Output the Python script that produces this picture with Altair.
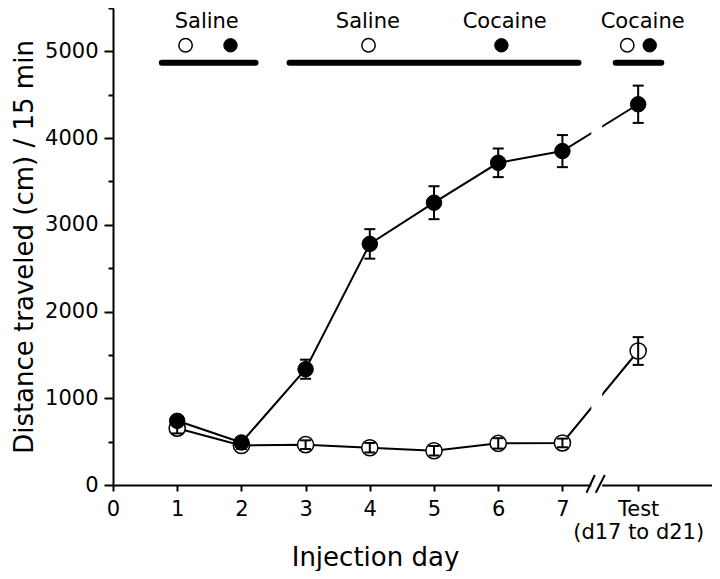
import altair as alt
import pandas as pd

# ---- data ----
DAYS = [1, 2, 3, 4, 5, 6, 7, 8.18]          # 8.18 = "Test" position after the axis break
COC_MEAN = [740, 490, 1335, 2780, 3255, 3715, 3850, 4390]
COC_ERR = [50, 40, 110, 170, 190, 165, 185, 215]
SAL_MEAN = [655, 455, 465, 430, 395, 480, 485, 1545]
SAL_ERR = [60, 40, 50, 55, 55, 60, 50, 160]

X_TICKS = [0, 1, 2, 3, 4, 5, 6, 7, 8.18]
Y_TICKS = [0, 500, 1000, 1500, 2000, 2500, 3000, 3500, 4000, 4500, 5000, 5500]

# treatment annotation at the top
BAR_START = [0.76, 2.75, 7.83]
BAR_END = [2.22, 7.25, 8.54]
BAR_Y = 4870
LABEL_TEXT = ["Saline", "Saline", "Cocaine", "Cocaine"]
LABEL_X = [1.46, 3.97, 6.10, 8.25]
LABEL_Y = 5270
OPEN_X = [1.13, 3.98, 8.01]
FILLED_X = [1.83, 6.05, 8.36]
SYMBOL_Y = 5070

# axis break
BREAK_LO, BREAK_HI = 7.45, 7.62
SLASH_X1 = [7.375, 7.52]
SLASH_X2 = [7.505, 7.66]

FONT = "DejaVu Sans"

# ---- tables ----
coc = pd.DataFrame({"x": DAYS, "mean": COC_MEAN, "err": COC_ERR, "series": "Cocaine"})
sal = pd.DataFrame({"x": DAYS, "mean": SAL_MEAN, "err": SAL_ERR, "series": "Saline"})
for d in (coc, sal):
    d["lo"] = d["mean"] - d["err"]
    d["hi"] = d["mean"] + d["err"]
both = pd.concat([coc, sal], ignore_index=True)

bars = pd.DataFrame({"x": BAR_START, "x2": BAR_END, "y": [BAR_Y] * len(BAR_START)})
labels = pd.DataFrame({"x": LABEL_X, "text": LABEL_TEXT, "y": [LABEL_Y] * len(LABEL_X)})
opens = pd.DataFrame({"x": OPEN_X, "y": [SYMBOL_Y] * len(OPEN_X)})
filleds = pd.DataFrame({"x": FILLED_X, "y": [SYMBOL_Y] * len(FILLED_X)})
brk = pd.DataFrame({"x": [BREAK_LO], "x2": [BREAK_HI]})
slashes = pd.DataFrame({"x": SLASH_X1, "x2": SLASH_X2})

# ---- scales and axes ----
xs = alt.Scale(domain=[0, 9.33], nice=False, zero=False)
ys = alt.Scale(domain=[0, 5500], nice=False)

x_axis = alt.Axis(
    values=X_TICKS,
    labelExpr="datum.value > 7.5 ? ['Test', '(d17 to d21)'] : format(datum.value, 'd')",
    title="Injection day",
    tickSize=6,
    labelPadding=7,
    labelLineHeight=23,
    labelOverlap=False,
    labelFlush=False,
    titleX=262,
    titleY=80,
    titleAlign="center",
    titleBaseline="alphabetic",
    titleFontSize=26,
)
y_axis = alt.Axis(
    values=Y_TICKS,
    labelExpr="datum.value % 1000 == 0 && datum.value <= 5000 ? format(datum.value, 'd') : ''",
    title="Distance traveled (cm) / 15 min",
    tickSize={"condition": {"test": "datum.value % 1000 == 0", "value": 9}, "value": 5},
    labelPadding=6,
    labelOverlap=False,
    labelFlush=False,
    titlePadding=7,
    titleFontSize=26,
)


def X(field):
    return alt.X(field, type="quantitative", scale=xs, axis=x_axis)


def Y(field):
    return alt.Y(field, type="quantitative", scale=ys, axis=y_axis)


lines = alt.Chart(both).mark_line(color="black", strokeWidth=2).encode(
    x=X("x"), y=Y("mean"), detail="series:N", order="x:Q"
)

mask = alt.Chart(brk).mark_rect(color="white").encode(
    x=X("x"), x2="x2:Q", y=alt.value(0), y2=alt.value(481)
)

slash_marks = alt.Chart(slashes).mark_rule(color="black", strokeWidth=2).encode(
    x=X("x"), x2="x2:Q", y=alt.value(484.7), y2=alt.value(467)
)

sal_pts = alt.Chart(sal).mark_point(
    shape="circle", filled=True, fill="white", stroke="black", strokeWidth=1.5, size=260, opacity=1
).encode(x=X("x"), y=Y("mean"))

def errbars(df):
    r = alt.Chart(df).mark_rule(color="black", strokeWidth=2).encode(x=X("x"), y=Y("lo"), y2="hi:Q")
    t_lo = alt.Chart(df).mark_tick(color="black", orient="horizontal", size=11, thickness=2, opacity=1).encode(
        x=X("x"), y=Y("lo"))
    t_hi = alt.Chart(df).mark_tick(color="black", orient="horizontal", size=11, thickness=2, opacity=1).encode(
        x=X("x"), y=Y("hi"))
    return [r, t_lo, t_hi]

coc_pts = alt.Chart(coc).mark_point(
    shape="circle", filled=True, fill="black", stroke="black", strokeWidth=1, size=240, opacity=1
).encode(x=X("x"), y=Y("mean"))

top_bars = alt.Chart(bars).mark_rule(color="black", strokeWidth=6, strokeCap="round").encode(
    x=X("x"), x2="x2:Q", y=Y("y")
)
top_open = alt.Chart(opens).mark_point(
    shape="circle", filled=True, fill="white", stroke="black", strokeWidth=1.5, size=180, opacity=1
).encode(x=X("x"), y=Y("y"))
top_filled = alt.Chart(filleds).mark_point(
    shape="circle", filled=True, fill="black", stroke="black", strokeWidth=1, size=180, opacity=1
).encode(x=X("x"), y=Y("y"))
top_text = alt.Chart(labels).mark_text(
    font=FONT, fontSize=21, color="black", align="center", baseline="alphabetic"
).encode(x=X("x"), y=Y("y"), text="text:N")

chart = alt.layer(
    lines, mask, slash_marks,
    sal_pts, *errbars(sal),
    *errbars(coc), coc_pts,
    top_bars, top_open, top_filled, top_text,
).properties(
    width=599,
    height=477,
    autosize=alt.AutoSizeParams(type="none"),
    padding={"left": 105, "top": 0, "right": 0, "bottom": 86},
).configure_view(
    stroke=None
).configure_axis(
    grid=False,
    domainColor="black",
    domainWidth=2,
    tickColor="black",
    tickWidth=2,
    labelColor="black",
    titleColor="black",
    labelFont=FONT,
    titleFont=FONT,
    labelFontSize=21,
    titleFontWeight="normal",
)

chart.save("out.html", embed_options={"renderer": "svg", "actions": False})
